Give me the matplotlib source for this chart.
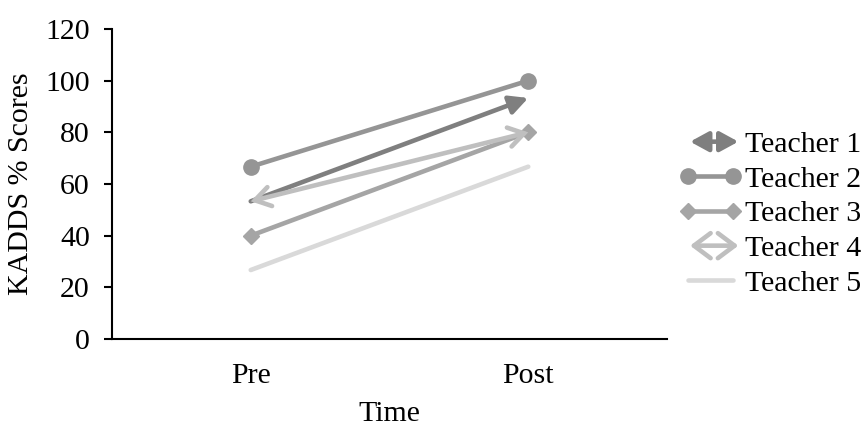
import matplotlib
matplotlib.use("Agg")
import matplotlib.pyplot as plt
from matplotlib.lines import Line2D
from matplotlib.patches import FancyArrowPatch
from matplotlib.legend_handler import HandlerBase

plt.rcParams['font.family'] = ['Liberation Serif', 'DejaVu Serif']

categories = ["Pre", "Post"]
teachers = ["Teacher 1", "Teacher 2", "Teacher 3", "Teacher 4", "Teacher 5"]
teacher1 = [53.3, 93.3]
teacher2 = [66.7, 100.0]
teacher3 = [40.0, 80.0]
teacher4 = [53.3, 80.0]
teacher5 = [26.7, 66.7]
yticks = [0, 20, 40, 60, 80, 100, 120]

colors = ["#7f7f7f", "#959595", "#a5a5a5", "#bfbfbf", "#d9d9d9"]
LW = 3.3
FS = 21.5

fig = plt.figure(figsize=(8.62, 4.26), dpi=100)
ax = fig.add_axes([112/862, 1-339/426, 555/862, 310/426])
x = list(range(len(categories)))

# Teacher 1: line with filled arrow at Post end
ax.annotate("", xy=(x[1], teacher1[1]), xytext=(x[0], teacher1[0]),
            arrowprops=dict(arrowstyle="-|>,head_length=0.55,head_width=0.28",
                            color=colors[0], lw=LW, shrinkA=0, shrinkB=0,
                            mutation_scale=20, capstyle='round'), zorder=3)
# Teacher 2: circles
ax.plot(x, teacher2, color=colors[1], lw=LW, marker='o', markersize=11,
        solid_capstyle='round', zorder=2)
# Teacher 3: diamonds
ax.plot(x, teacher3, color=colors[2], lw=LW, marker='D', markersize=8,
        solid_capstyle='round', zorder=3)
# Teacher 4: open arrows at both ends
ax.annotate("", xy=(x[0], teacher4[0]), xytext=(x[1], teacher4[1]),
            arrowprops=dict(arrowstyle="<->,head_length=0.55,head_width=0.35",
                            color=colors[3], lw=LW, shrinkA=0, shrinkB=0,
                            mutation_scale=20, capstyle='round', joinstyle='miter'), zorder=4)
# Teacher 5: plain line
ax.plot(x, teacher5, color=colors[4], lw=LW, solid_capstyle='round', zorder=2)

ax.set_xlim(-0.5, 1.5)
ax.set_ylim(0, 120)
ax.set_yticks(yticks)
ax.set_yticklabels([str(v) for v in yticks], fontsize=FS)
ax.set_xticks(x)
ax.set_xticklabels(categories, fontsize=FS)
ax.tick_params(axis='x', length=0, pad=17)
ax.tick_params(axis='y', direction='out', length=6, width=1.5, pad=10)
for s in ['top', 'right']:
    ax.spines[s].set_visible(False)
for s in ['left', 'bottom']:
    ax.spines[s].set_linewidth(1.5)
    ax.spines[s].set_color('black')
ax.set_ylabel("KADDS % Scores", fontsize=FS, labelpad=8)
ax.set_xlabel("Time", fontsize=FS, labelpad=9)


class ArrowHandler(HandlerBase):
    def __init__(self, style, color, inset=0.0):
        super().__init__()
        self.style = style
        self.color = color
        self.inset = inset

    def create_artists(self, legend, orig_handle, xdescent, ydescent,
                       width, height, fontsize, trans):
        y = height / 2 - ydescent
        p = FancyArrowPatch((-xdescent + self.inset, y),
                            (-xdescent + width - self.inset * 0.3, y),
                            arrowstyle=self.style, color=self.color, lw=LW,
                            mutation_scale=20, shrinkA=0, shrinkB=0,
                            transform=trans)
        return [p]


h1 = Line2D([], [], color=colors[0])
h2 = Line2D([], [], color=colors[1], lw=LW, marker='o', markersize=11)
h3 = Line2D([], [], color=colors[2], lw=LW, marker='D', markersize=8)
h4 = Line2D([], [], color=colors[3])
h5 = Line2D([], [], color=colors[4], lw=LW, solid_capstyle='round')

leg = fig.legend([h1, h2, h3, h4, h5], teachers, loc='center left',
                 bbox_to_anchor=(679/862, 1-214/426), frameon=False, fontsize=FS,
                 numpoints=2, handlelength=2.1, handletextpad=0.1,
                 labelspacing=0.26, borderaxespad=0, borderpad=0,
                 handler_map={h1: ArrowHandler("<|-|>,head_length=0.55,head_width=0.3", colors[0], inset=8),
                              h4: ArrowHandler("<->,head_length=0.6,head_width=0.45", colors[3], inset=8)})

fig.savefig("out.png", dpi=100)
